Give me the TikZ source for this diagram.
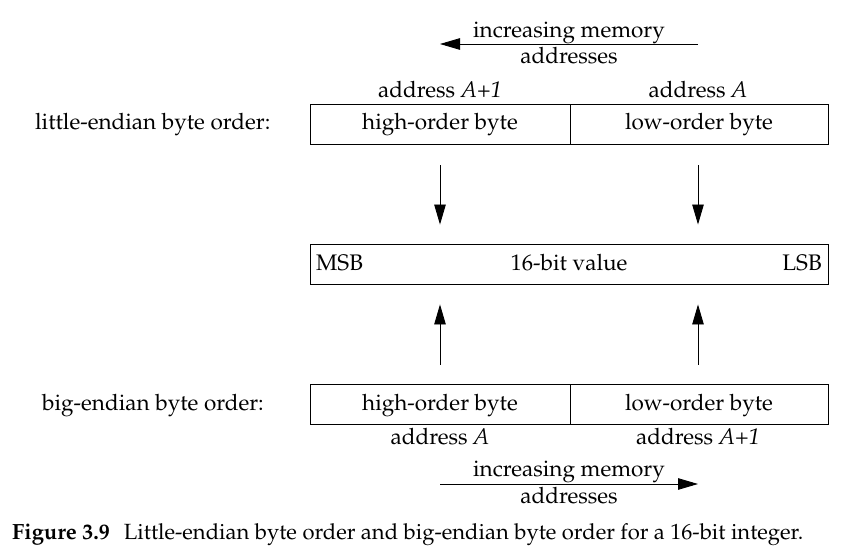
\documentclass[tikz,border=0pt]{standalone}
\usepackage[T1]{fontenc}
\usepackage{mathpazo}
\usetikzlibrary{arrows.meta}
\begin{document}
\begin{tikzpicture}[x=1pt,y=-1pt,
  txt/.style={inner sep=0pt,anchor=base,font=\fontsize{22.5}{27}\selectfont},
  cell/.style={draw,line width=0.9pt,minimum height=40pt,inner sep=0pt,font=\fontsize{22.5}{27}\selectfont},
  arr/.style={line width=0.9pt,-{Triangle[length=20pt,width=11.5pt]}}]
\useasboundingbox (0,0) rectangle (860,556);
% little endian
\node[txt] (tl1) at (569,38) {increasing memory};
\node[txt] (tl2) at (569,64) {addresses};
\coordinate (ts) at (698,44);
\coordinate (te) at (440,44);
\draw[arr] (ts) -- (te);
\node[txt] (a1) at (440,98) {address \textit{A}+\textit{1}};
\node[txt] (a0) at (698,98) {address \textit{A}};
\node[cell,minimum width=260pt] (hi1) at (440,124) {};
\node[cell,minimum width=258pt] (lo1) at (699,124) {};
\node[txt] (hi1t) at (440,130) {high-order byte};
\node[txt] (lo1t) at (699,130) {low-order byte};
\node[txt,anchor=base west] (le) at (35,130) {little-endian byte order:};
% middle
\node[cell,minimum width=518pt] (val) at (569,264) {};
\node[txt] (valt) at (569,271) {16-bit value};
\node[txt,anchor=base west] (msb) at (316,271) {MSB};
\node[txt,anchor=base east] (lsb) at (822,271) {LSB};
% big endian
\node[cell,minimum width=260pt] (hi2) at (440,404) {};
\node[cell,minimum width=258pt] (lo2) at (699,404) {};
\node[txt] (hi2t) at (440,410) {high-order byte};
\node[txt] (lo2t) at (699,410) {low-order byte};
\node[txt,anchor=base west] (be) at (42,410) {big-endian byte order:};
\node[txt] (b0) at (440,444) {address \textit{A}};
\node[txt] (b1) at (698,444) {address \textit{A}+\textit{1}};
\node[txt] (bl1) at (569,476) {increasing memory};
\node[txt] (bl2) at (569,503) {addresses};
\coordinate (bs) at (440,484);
\coordinate (bend) at (698,484);
\draw[arr] (bs) -- (bend);
% vertical arrows
\draw[arr,shorten <=21pt,shorten >=19pt] (hi1.south) -- (hi1.south |- val.north);
\draw[arr,shorten <=21pt,shorten >=19pt] (a0 |- lo1.south) -- (a0 |- val.north);
\draw[arr,shorten <=19pt,shorten >=20pt] (hi2.north) -- (hi2.north |- val.south);
\draw[arr,shorten <=19pt,shorten >=20pt] (b1 |- lo2.north) -- (b1 |- val.south);
% caption
\node[txt,anchor=base west,font=\fontsize{22}{26}\selectfont] (cap) at (12,539) {\textbf{Figure 3.9}\hspace{14pt}Little-endian byte order and big-endian byte order for a 16-bit integer.};
\end{tikzpicture}
\end{document}
